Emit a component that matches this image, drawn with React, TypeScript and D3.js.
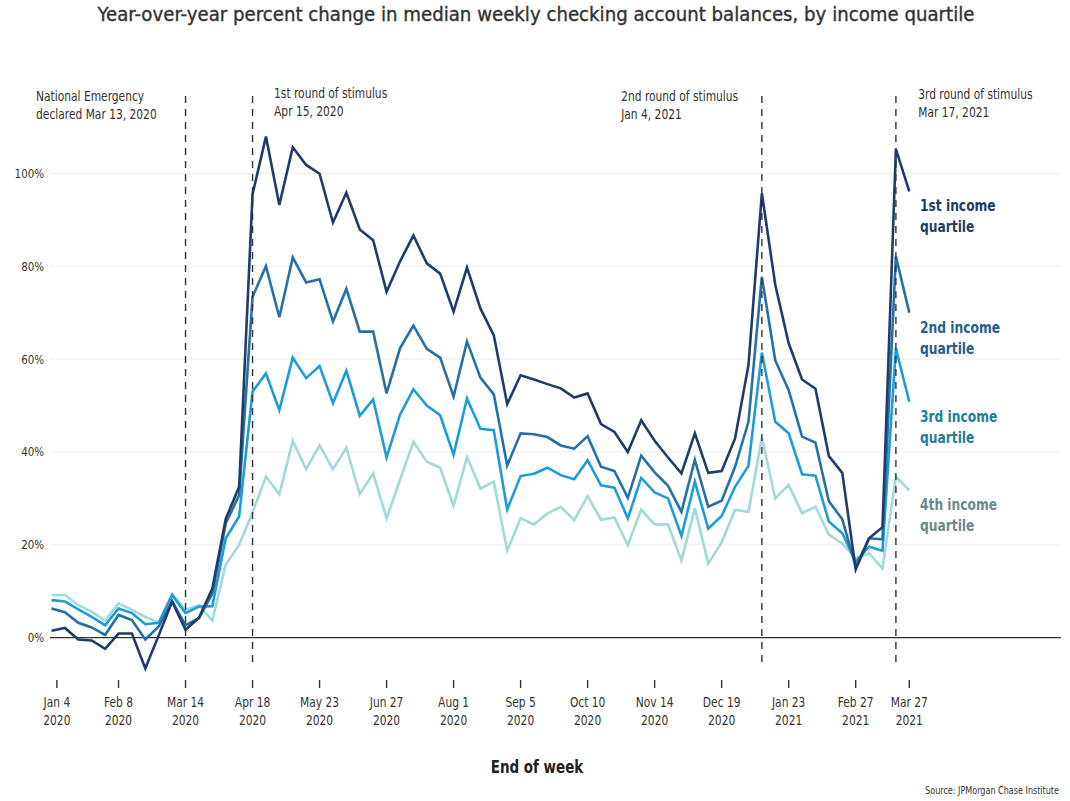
import React from 'react';
import * as d3 from 'd3';

// weekly year-over-year % change, week 0 = Jan 4 2020 ... week 64 = Mar 27 2021
const quartile1 = [
  1.5, 2.1, -0.4, -0.6, -2.4, 0.9, 0.9, -6.6, 0.5, 7.8, 1.7, 4.3, 10.6, 25.6, 32.5,
  95.5, 107.9, 93.2, 105.6, 101.8, 99.9, 89.4, 95.8, 87.9, 85.6, 74.5, 81.0, 86.6,
  80.6, 78.4, 70.2, 79.7, 70.9, 65.1, 50.3, 56.5, 55.6, 54.6, 53.7, 51.7, 52.6, 46.0,
  44.3, 40.0, 46.8, 42.4, 38.8, 35.4, 44.0, 35.5, 35.9, 42.9, 58.7, 95.7, 76.0, 63.4,
  55.6, 53.6, 39.1, 35.5, 14.7, 21.4, 23.8, 105.2, 96.1,
];
const quartile2 = [
  6.3, 5.5, 3.2, 2.2, 0.6, 4.9, 3.8, -0.4, 2.4, 7.8, 2.7, 4.2, 9.5, 24.6, 30.7,
  73.4, 80.0, 69.0, 81.9, 76.5, 77.2, 68.1, 75.1, 65.9, 65.9, 52.6, 62.3, 67.2,
  62.2, 60.3, 51.9, 63.8, 56.0, 52.4, 37.1, 44.0, 43.8, 43.2, 41.4, 40.7, 43.4, 36.8,
  35.9, 30.1, 39.2, 35.6, 32.7, 27.1, 38.3, 28.2, 29.5, 36.8, 46.5, 77.7, 59.7, 53.3,
  43.3, 42.0, 29.4, 25.5, 15.3, 21.4, 21.2, 82.1, 70.0,
];
const quartile3 = [
  8.1, 7.8, 6.1, 4.5, 2.7, 6.3, 5.3, 2.9, 3.2, 9.2, 5.3, 6.7, 6.8, 21.4, 26.1,
  53.0, 56.9, 49.0, 60.3, 55.9, 58.5, 50.5, 57.5, 47.8, 51.3, 38.8, 48.0, 53.5,
  50.0, 47.9, 39.4, 51.5, 45.0, 44.7, 27.6, 34.8, 35.3, 36.6, 35.0, 34.1, 38.2, 32.8,
  32.3, 25.7, 34.4, 31.3, 30.0, 21.9, 33.6, 23.5, 26.2, 32.5, 37.0, 61.4, 46.5, 44.0,
  35.2, 34.9, 25.0, 22.5, 16.4, 19.6, 18.7, 62.3, 50.8,
];
const quartile4 = [
  9.2, 9.2, 7.0, 5.6, 3.7, 7.4, 6.0, 4.5, 3.2, 9.4, 6.0, 7.0, 3.7, 15.7, 20.0,
  27.0, 34.7, 30.9, 42.4, 36.3, 41.4, 36.3, 40.9, 30.9, 35.4, 25.7, 34.0, 42.2,
  37.9, 36.6, 28.4, 38.9, 32.1, 33.6, 18.7, 25.7, 24.4, 26.7, 28.2, 25.3, 30.5, 25.4,
  25.9, 19.9, 27.6, 24.4, 24.4, 16.6, 27.9, 16.0, 20.5, 27.5, 27.1, 43.1, 30.0, 32.9,
  26.8, 28.2, 22.2, 20.3, 17.1, 18.2, 14.9, 34.7, 31.7,
];

const seriesNames = ['4th income quartile', '3rd income quartile', '2nd income quartile', '1st income quartile'];
const seriesValues = [quartile4, quartile3, quartile2, quartile1];
const lineColors = ['#a3d9d9', '#1c9dd9', '#2470a8', '#1f3c6b'];
const labelColors = ['#6b8a8e', '#1d7f96', '#235f8e', '#1f3c6b'];

const tickWeeks = [0.4, 5, 10, 15, 20, 25, 30, 35, 40, 45, 50, 55, 60, 64];
const tickLabels = [
  ['Jan 4', '2020'], ['Feb 8', '2020'], ['Mar 14', '2020'], ['Apr 18', '2020'],
  ['May 23', '2020'], ['Jun 27', '2020'], ['Aug 1', '2020'], ['Sep 5', '2020'],
  ['Oct 10', '2020'], ['Nov 14', '2020'], ['Dec 19', '2020'], ['Jan 23', '2021'],
  ['Feb 27', '2021'], ['Mar 27', '2021'],
];
const yTicks = [0, 20, 40, 60, 80, 100];

const eventWeeks = [10, 15, 53, 63];
const eventLabels = [
  ['National Emergency', 'declared Mar 13, 2020'],
  ['1st round of stimulus', 'Apr 15, 2020'],
  ['2nd round of stimulus', 'Jan 4, 2021'],
  ['3rd round of stimulus', 'Mar 17, 2021'],
];

const FONT = "'DejaVu Sans Condensed', 'DejaVu Sans', sans-serif";
const SQUEEZE = 0.88;

// narrow text: the original uses a condensed face, so squeeze horizontally
function CText({ x, y, size, anchor = 'start', weight = 'normal', fill = '#333', children }: {
  x: number; y: number; size: number; anchor?: string; weight?: string; fill?: string; children: React.ReactNode;
}) {
  return (
    <text
      transform={`translate(${x},${y}) scale(${SQUEEZE},1)`}
      textAnchor={anchor}
      fontSize={size}
      fontWeight={weight}
      fill={fill}
    >
      {children}
    </text>
  );
}

export default function App() {
  const width = 1070;
  const height = 801;

  const x = d3.scaleLinear().domain([0, 64]).range([51.5, 909.3]);
  const y = d3.scaleLinear().domain([0, 100]).range([637.7, 173.3]);

  const line = d3.line<number>()
    .x((_, i) => x(i))
    .y(d => y(d));

  const gridLeft = 50;
  const gridRight = 1061;

  // annotation text offsets from the dashed line
  const eventOffsets = [-149.5, 21.5, -140.7, 22.3];
  const eventBaselines = [101, 98, 101, 99];

  return (
    <svg
      width={width}
      height={height}
      style={{ position: 'absolute', left: 0, top: 0, background: '#fff' }}
      fontFamily={FONT}
    >
      <text x={536} y={21} textAnchor="middle" fontSize={20.2} fill="#333" stroke="#333" strokeWidth={0.35}>
        Year-over-year percent change in median weekly checking account balances, by income quartile
      </text>

      {/* gridlines */}
      {yTicks.filter(t => t !== 0).map(t => (
        <line key={t} x1={gridLeft} x2={gridRight} y1={y(t)} y2={y(t)} stroke="#ececec" strokeWidth={1} />
      ))}
      {yTicks.map(t => (
        <CText key={'yl' + t} x={44} y={y(t) + 4.5} anchor="end" size={13}>
          {t}%
        </CText>
      ))}
      <line x1={gridLeft} x2={gridRight} y1={y(0)} y2={y(0)} stroke="#333" strokeWidth={1.3} />

      {/* series */}
      {seriesValues.map((vals, i) => (
        <path
          key={seriesNames[i]}
          d={line(vals) || ''}
          fill="none"
          stroke={lineColors[i]}
          strokeWidth={2.6}
          strokeLinejoin="miter"
        />
      ))}

      {/* event markers */}
      {eventWeeks.map((w, i) => (
        <g key={'ev' + i}>
          <line x1={x(w)} x2={x(w)} y1={96} y2={664} stroke="#333" strokeWidth={1.4} strokeDasharray="7,6" />
          {eventLabels[i].map((s, j) => (
            <CText key={j} x={x(w) + eventOffsets[i]} y={eventBaselines[i] + j * 18} size={13.5}>
              {s}
            </CText>
          ))}
        </g>
      ))}

      {/* series labels */}
      {seriesValues.map((vals, i) => {
        const [a, b] = seriesNames[i].split(' quartile');
        const yy = y(vals[vals.length - 1]) + 20;
        return (
          <g key={'lab' + i}>
            <CText x={920} y={yy} size={15.5} weight="bold" fill={labelColors[i]}>{a}</CText>
            <CText x={920} y={yy + 21} size={15.5} weight="bold" fill={labelColors[i]}>{'quartile' + b}</CText>
          </g>
        );
      })}

      {/* x axis */}
      {tickWeeks.map((w, i) => (
        <g key={'xt' + i}>
          <line x1={x(w)} x2={x(w)} y1={680} y2={688} stroke="#333" strokeWidth={1.4} />
          <CText x={x(w)} y={706.5} anchor="middle" size={13.5}>{tickLabels[i][0]}</CText>
          <CText x={x(w)} y={725} anchor="middle" size={13.5}>{tickLabels[i][1]}</CText>
        </g>
      ))}

      <CText x={537} y={773} anchor="middle" size={17} weight="bold" fill="#222">
        End of week
      </CText>
      <CText x={1059} y={794} anchor="end" size={10.2}>
        Source: JPMorgan Chase Institute
      </CText>
    </svg>
  );
}
